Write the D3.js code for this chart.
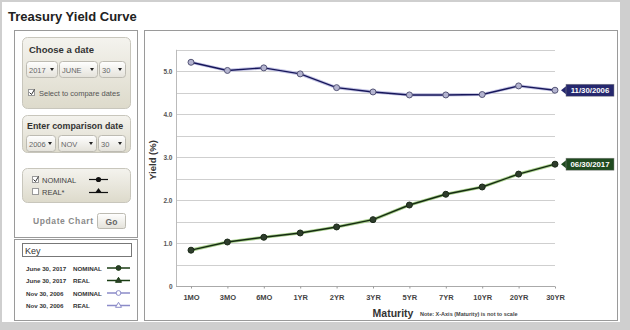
<!DOCTYPE html>
<html>
<head>
<meta charset="utf-8">
<script src="https://cdn.jsdelivr.net/npm/d3@7"></script>
<style>
  html, body { margin: 0; padding: 0; background: #fff; }
  svg { display: block; font-family: "Liberation Sans", Arial, Helvetica, sans-serif; }
</style>
</head>
<body>
<svg id="chart" width="630" height="330"></svg>
<script>
// Maturities along the x axis (not to scale)
const maturities = ["1MO", "3MO", "6MO", "1YR", "2YR", "3YR", "5YR", "7YR", "10YR", "20YR", "30YR"];
// Nominal yields (%) for June 30, 2017
const yields2017 = [0.84, 1.03, 1.14, 1.24, 1.38, 1.55, 1.89, 2.14, 2.31, 2.61, 2.84];
// Nominal yields (%) for Nov 30, 2006
const yields2006 = [5.21, 5.02, 5.08, 4.94, 4.62, 4.52, 4.45, 4.45, 4.46, 4.66, 4.56];
// Y axis ticks
const yTickLabels = [0, 1.0, 2.0, 3.0, 4.0, 5.0];
const gridValues = [0.5, 1.0, 1.5, 2.0, 2.5, 3.0, 3.5, 4.0, 4.5, 5.0, 5.5];
// Key entries
const keyRows = [
  { date: "June 30, 2017", type: "NOMINAL", color: "#1b3d14", marker: "circle", fill: "#2c3f2a" },
  { date: "June 30, 2017", type: "REAL", color: "#1b3d14", marker: "triangle", fill: "#2c3f2a" },
  { date: "Nov 30, 2006", type: "NOMINAL", color: "#8b8bc8", marker: "circle", fill: "#fff" },
  { date: "Nov 30, 2006", type: "REAL", color: "#8b8bc8", marker: "triangle", fill: "#fff" }
];

const svg = d3.select("#chart");

// page frame
svg.append("rect").attr("width", 630).attr("height", 330).attr("fill", "#cfcfcf");
svg.append("rect").attr("x", 2).attr("y", 2).attr("width", 618).attr("height", 320).attr("fill", "#fff");

svg.append("text").attr("x", 8).attr("y", 21)
  .attr("font-size", 13).attr("font-weight", "bold").attr("fill", "#222")
  .text("Treasury Yield Curve");

// gradient for control boxes
const defs = svg.append("defs");
const grad = defs.append("linearGradient").attr("id", "boxGrad").attr("x1", 0).attr("y1", 0).attr("x2", 0).attr("y2", 1);
grad.append("stop").attr("offset", "0%").attr("stop-color", "#f4f3ee");
grad.append("stop").attr("offset", "100%").attr("stop-color", "#dddacb");
const selGrad = defs.append("linearGradient").attr("id", "selGrad").attr("x1", 0).attr("y1", 0).attr("x2", 0).attr("y2", 1);
selGrad.append("stop").attr("offset", "0%").attr("stop-color", "#ffffff");
selGrad.append("stop").attr("offset", "100%").attr("stop-color", "#e4e2da");

// left panel
svg.append("rect").attr("x", 14.5).attr("y", 30.5).attr("width", 123).attr("height", 207)
  .attr("fill", "#fff").attr("stroke", "#9a9a9a");

function controlBox(y, h) {
  svg.append("rect").attr("x", 22.5).attr("y", y + 0.5).attr("width", 108).attr("height", h)
    .attr("rx", 5).attr("fill", "url(#boxGrad)").attr("stroke", "#c8c6bc");
}
function select(x, y, w, label) {
  svg.append("rect").attr("x", x + 0.5).attr("y", y + 0.5).attr("width", w).attr("height", 16)
    .attr("rx", 3).attr("fill", "url(#selGrad)").attr("stroke", "#bdbbb2");
  svg.append("text").attr("x", x + 3).attr("y", y + 11.5).attr("font-size", 7.5).attr("fill", "#666").text(label);
  svg.append("path").attr("d", `M${x + w - 7},${y + 7} l4,0 l-2,3 z`).attr("fill", "#222");
}

controlBox(37, 71);
svg.append("text").attr("x", 29).attr("y", 53).attr("font-size", 9.5).attr("font-weight", "bold").attr("fill", "#333").text("Choose a date");
select(26, 61, 31, "2017");
select(59, 61, 38, "JUNE");
select(99, 61, 26, "30");
svg.append("rect").attr("x", 28.5).attr("y", 89.5).attr("width", 6).attr("height", 6).attr("fill", "#fff").attr("stroke", "#999");
svg.append("path").attr("d", "M29.5,92.5 l2,2 l3,-5").attr("fill", "none").attr("stroke", "#333").attr("stroke-width", 1);
svg.append("text").attr("x", 39).attr("y", 95.5).attr("font-size", 7.5).attr("fill", "#555").text("Select to compare dates");

controlBox(115, 37);
svg.append("text").attr("x", 27).attr("y", 129).attr("font-size", 8.9).attr("font-weight", "bold").attr("fill", "#333").text("Enter comparison date");
select(26, 135, 29, "2006");
select(58, 135, 38, "NOV");
select(98, 135, 27, "30");

controlBox(168, 34);
svg.append("rect").attr("x", 32.5).attr("y", 176.5).attr("width", 6).attr("height", 6).attr("fill", "#fff").attr("stroke", "#999");
svg.append("path").attr("d", "M33.5,179.5 l2,2 l3,-5").attr("fill", "none").attr("stroke", "#333");
svg.append("text").attr("x", 42).attr("y", 182.5).attr("font-size", 7.5).attr("fill", "#444").text("NOMINAL");
svg.append("rect").attr("x", 32.5).attr("y", 188.5).attr("width", 6).attr("height", 6).attr("fill", "#fff").attr("stroke", "#999");
svg.append("text").attr("x", 42).attr("y", 194.5).attr("font-size", 7.5).attr("fill", "#444").text("REAL*");
svg.append("line").attr("x1", 89).attr("x2", 108).attr("y1", 179.5).attr("y2", 179.5).attr("stroke", "#111").attr("stroke-width", 1.2);
svg.append("circle").attr("cx", 98.5).attr("cy", 179.5).attr("r", 2.6).attr("fill", "#111");
svg.append("line").attr("x1", 89).attr("x2", 108).attr("y1", 192.5).attr("y2", 192.5).attr("stroke", "#111").attr("stroke-width", 1.2);
svg.append("path").attr("d", "M98.5,188 l3.2,4.5 l-6.4,0 z").attr("fill", "#111");

svg.append("text").attr("x", 33).attr("y", 224).attr("font-size", 8.5).attr("font-weight", "bold")
  .attr("letter-spacing", 0.6).attr("fill", "#8a8a8a").text("Update Chart");
svg.append("rect").attr("x", 97.5).attr("y", 213.5).attr("width", 28).attr("height", 15).attr("rx", 2)
  .attr("fill", "url(#selGrad)").attr("stroke", "#bdbbb2");
svg.append("text").attr("x", 111.5).attr("y", 224.5).attr("text-anchor", "middle").attr("font-size", 8.5)
  .attr("font-weight", "bold").attr("fill", "#666").text("Go");

// key panel
svg.append("rect").attr("x", 14.5).attr("y", 239.5).attr("width", 123).attr("height", 81)
  .attr("fill", "#fff").attr("stroke", "#9a9a9a");
svg.append("rect").attr("x", 22.5).attr("y", 243.5).attr("width", 109).attr("height", 13)
  .attr("fill", "#fff").attr("stroke", "#777");
svg.append("text").attr("x", 25).attr("y", 254).attr("font-size", 9).attr("fill", "#333").text("Key");

const keyG = svg.append("g");
keyRows.forEach((r, i) => {
  const y = 268 + i * 12.5;
  keyG.append("text").attr("x", 26).attr("y", y + 2.5).attr("font-size", 6.2).attr("font-weight", "bold").attr("fill", "#333").text(r.date);
  keyG.append("text").attr("x", 73).attr("y", y + 2.5).attr("font-size", 6.2).attr("font-weight", "bold").attr("fill", "#333").text(r.type);
  keyG.append("line").attr("x1", 107).attr("x2", 130).attr("y1", y).attr("y2", y).attr("stroke", r.color).attr("stroke-width", 1.5);
  if (r.marker === "circle") {
    keyG.append("circle").attr("cx", 118.5).attr("cy", y).attr("r", 2.4).attr("fill", r.fill).attr("stroke", r.color);
  } else {
    keyG.append("path").attr("d", `M118.5,${y - 3.2} l3,5 l-6,0 z`).attr("fill", r.fill).attr("stroke", r.color);
  }
});

// chart panel
svg.append("rect").attr("x", 144.5).attr("y", 30.5).attr("width", 473).attr("height", 290)
  .attr("fill", "#fff").attr("stroke", "#9a9a9a");

const x = d3.scalePoint().domain(maturities).range([191, 555]);
const y = d3.scaleLinear().domain([0, 5.5]).range([286.3, 49.8]);

// gridlines
svg.append("g").selectAll("line").data(gridValues).join("line")
  .attr("x1", 176).attr("x2", 555)
  .attr("y1", d => Math.round(y(d)) + 0.5).attr("y2", d => Math.round(y(d)) + 0.5)
  .attr("stroke", "#cfcfcf").attr("stroke-width", 1);

// y axis
const yAxis = svg.append("g").attr("transform", "translate(176.5,0)")
  .call(d3.axisLeft(y).tickValues(yTickLabels).tickSize(0).tickPadding(4)
    .tickFormat(d => d === 0 ? "0" : d3.format(".1f")(d)));
yAxis.select(".domain").attr("stroke", "#bbb").attr("d", `M0,${y(5.5)}V${y(0)}`);
yAxis.selectAll("text").attr("font-size", 6.5).attr("font-weight", "bold").attr("fill", "#555")
  .attr("font-family", "'Liberation Sans', Arial, sans-serif");

// x axis
const xAxis = svg.append("g").attr("transform", `translate(0,${Math.round(y(0)) + 0.5})`)
  .call(d3.axisBottom(x).tickSize(2).tickPadding(6));
xAxis.select(".domain").attr("stroke", "#aaa").attr("d", "M176,0H555");
xAxis.selectAll(".tick line").attr("stroke", "#999");
xAxis.selectAll("text").attr("font-size", 7.5).attr("font-weight", "bold").attr("fill", "#444")
  .attr("font-family", "'Liberation Sans', Arial, sans-serif");

svg.append("text").attr("transform", "translate(156,160) rotate(-90)").attr("text-anchor", "middle")
  .attr("font-size", 9.5).attr("font-weight", "bold").attr("fill", "#333").text("Yield (%)");
svg.append("text").attr("x", 393).attr("y", 317).attr("text-anchor", "middle")
  .attr("font-size", 10.5).attr("font-weight", "bold").attr("fill", "#333").text("Maturity");
svg.append("text").attr("x", 420).attr("y", 316).attr("font-size", 5.5).attr("font-weight", "bold")
  .attr("fill", "#444").text("Note: X-Axis (Maturity) is not to scale");

// series
const line = d3.line().x((d, i) => x(maturities[i])).y(d => y(d));

function series(values, halo, core, mFill, mStroke) {
  const g = svg.append("g");
  g.append("path").datum(values).attr("d", line).attr("fill", "none").attr("stroke", halo).attr("stroke-width", 3.2);
  g.append("path").datum(values).attr("d", line).attr("fill", "none").attr("stroke", core).attr("stroke-width", 1.4);
  g.selectAll("circle").data(values).join("circle")
    .attr("cx", (d, i) => x(maturities[i])).attr("cy", d => y(d)).attr("r", 3)
    .attr("fill", mFill).attr("stroke", mStroke).attr("stroke-width", 1);
}
series(yields2006, "#c4c4e4", "#16165a", "#b4b4d0", "#555577");
series(yields2017, "#a9d08c", "#152b12", "#2e3d2c", "#1b2a18");

// end-of-line date tags
function tag(value, label, color) {
  const ty = y(value);
  const g = svg.append("g");
  g.append("path").attr("d", `M561,${ty} l5,-4 l0,8 z`).attr("fill", color);
  g.append("rect").attr("x", 566).attr("y", ty - 6).attr("width", 48).attr("height", 12).attr("fill", color)
    .attr("stroke", "#888").attr("stroke-width", 0.5);
  g.append("text").attr("x", 590).attr("y", ty + 3).attr("text-anchor", "middle").attr("font-size", 7.8)
    .attr("font-weight", "bold").attr("fill", "#fff").text(label);
}
tag(yields2006[yields2006.length - 1], "11/30/2006", "#26286e");
tag(yields2017[yields2017.length - 1], "06/30/2017", "#1f4a1f");
</script>
</body>
</html>
